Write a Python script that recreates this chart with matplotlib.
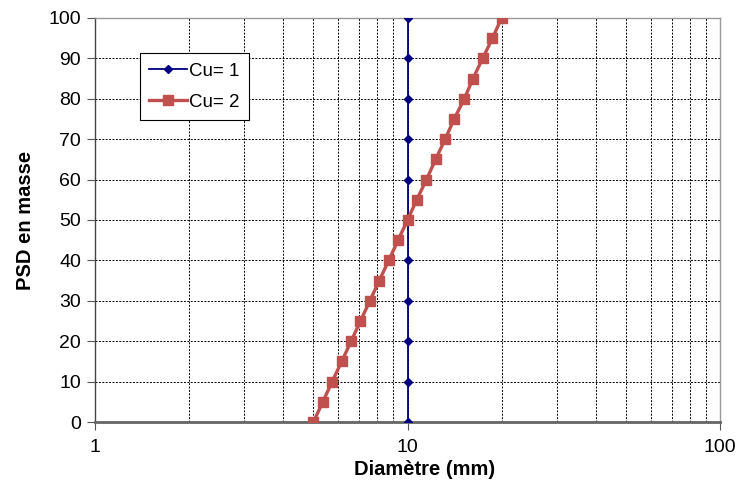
import matplotlib
matplotlib.use("Agg")
import matplotlib.pyplot as plt
from matplotlib.ticker import LogLocator, NullFormatter, FixedLocator, FixedFormatter

plt.rcParams['font.family'] = ['Liberation Sans', 'DejaVu Sans']

# Data
psd_cu1 = [0, 10, 20, 30, 40, 50, 60, 70, 80, 90, 100]
d_cu1 = [10, 10, 10, 10, 10, 10, 10, 10, 10, 10, 10]
psd_cu2 = [0, 5, 10, 15, 20, 25, 30, 35, 40, 45, 50, 55, 60, 65, 70, 75, 80, 85, 90, 95, 100]
d_cu2 = [5.0, 5.36, 5.74, 6.16, 6.6, 7.07, 7.58, 8.12, 8.71, 9.33, 10.0,
         10.7, 11.5, 12.3, 13.2, 14.1, 15.2, 16.2, 17.4, 18.7, 20.0]
x_ticks = [1, 10, 100]
x_ticklabels = ["1", "10", "100"]
y_ticks = [0, 10, 20, 30, 40, 50, 60, 70, 80, 90, 100]

fig = plt.figure(figsize=(7.4, 4.86), dpi=100)
ax = fig.add_axes([95/740, 1 - 422/486, 625/740, 404/486])

ax.plot(d_cu1, psd_cu1, color='#000080', lw=1.3, marker='D', ms=4.5,
        label='Cu= 1', zorder=3)
ax.plot(d_cu2, psd_cu2, color='#C0504D', lw=2.4, marker='s', ms=6.5,
        label='Cu= 2', zorder=4)

ax.set_xscale('log')
ax.set_xlim(1, 100)
ax.set_ylim(0, 100)
ax.xaxis.set_major_locator(FixedLocator(x_ticks))
ax.xaxis.set_major_formatter(FixedFormatter(x_ticklabels))
ax.xaxis.set_minor_locator(LogLocator(base=10, subs=range(2, 10)))
ax.xaxis.set_minor_formatter(NullFormatter())
ax.set_yticks(y_ticks)

ax.grid(True, which='both', axis='x', color='black', ls=(0, (2, 1.5)), lw=0.7)
ax.grid(True, which='major', axis='y', color='black', ls=(0, (2, 1.5)), lw=0.7)
ax.set_axisbelow(True)

for s in ['top', 'right']:
    ax.spines[s].set_color('#999999')
    ax.spines[s].set_linewidth(1.0)
ax.spines['left'].set_color('#444444')
ax.spines['left'].set_linewidth(1.0)
ax.spines['bottom'].set_color('#666666')
ax.spines['bottom'].set_linewidth(2.0)

ax.tick_params(axis='y', which='major', direction='out', length=6, width=0.8,
               color='#555555', labelsize=14, pad=4)
ax.tick_params(axis='x', which='major', direction='out', length=6, width=0.8,
               color='#555555', labelsize=14, pad=6)
ax.tick_params(axis='x', which='minor', length=0)

ax.set_xlabel('Diamètre (mm)', fontsize=14.5, fontweight='bold')
ax.xaxis.set_label_coords(0.527, -0.093)
ax.set_ylabel('PSD en masse', fontsize=14.5, fontweight='bold', labelpad=10)

leg = ax.legend(loc='upper left', bbox_to_anchor=(0.072, 0.913), fontsize=13.5,
                frameon=True, fancybox=False, edgecolor='black', framealpha=1,
                borderpad=0.5, handlelength=2.0, handletextpad=0.1,
                labelspacing=0.75, borderaxespad=0)
leg.get_frame().set_linewidth(0.8)

fig.savefig('out.png', dpi=100)
